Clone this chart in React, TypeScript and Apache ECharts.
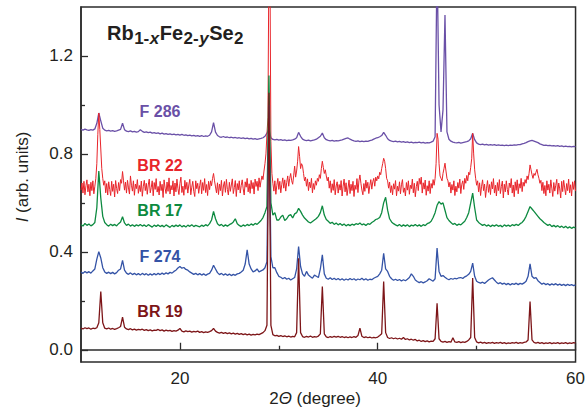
import React, { useEffect, useRef } from "react";
import * as echarts from "echarts";

// Sampling grids of the patterns (2θ in degrees)
const X_START = 10;
const X_STEP = 0.2;
const X_STEP_FINE = 0.1;

const X_TICKS = [20, 40, 60];
const X_MINOR_TICKS = [30, 50];
const Y_TICKS = [0, 0.4, 0.8, 1.2];
const Y_MINOR_TICKS = [0.2, 0.6, 1.0];

const SERIES_NAMES = ["F 286", "BR 22", "BR 17", "F 274", "BR 19"];

// Title "Rb1-xFe2-ySe2": [text, kind]
const TITLE_PARTS: [string, string][] = [
  ["Rb", "main"],
  ["1-", "sub"],
  ["x", "subItalic"],
  ["Fe", "main"],
  ["2-", "sub"],
  ["y", "subItalic"],
  ["Se", "main"],
  ["2", "sub"],
];

// Intensities (arb. units, offset), one value per 0.2° from 10° to 60°
const F286 = [
  0.900, 0.897, 0.901, 0.898, 0.896, 0.899, 0.897, 0.902, 0.925, 0.967,
  0.935, 0.905, 0.897, 0.894, 0.896, 0.893, 0.895, 0.892, 0.894, 0.897,
  0.900, 0.925, 0.899, 0.893, 0.891, 0.894, 0.890, 0.892, 0.889, 0.891,
  0.899, 0.892, 0.888, 0.890, 0.887, 0.889, 0.885, 0.887, 0.884, 0.886,
  0.882, 0.885, 0.881, 0.883, 0.880, 0.882, 0.879, 0.881, 0.878, 0.880,
  0.877, 0.880, 0.876, 0.878, 0.875, 0.877, 0.874, 0.876, 0.873, 0.875,
  0.872, 0.875, 0.871, 0.874, 0.872, 0.876, 0.890, 0.928, 0.889, 0.875,
  0.870, 0.868, 0.871, 0.867, 0.869, 0.866, 0.868, 0.865, 0.867, 0.864,
  0.866, 0.863, 0.865, 0.862, 0.864, 0.861, 0.863, 0.860, 0.862, 0.859,
  0.861, 0.863, 0.866, 0.872, 0.885, 0.900, 0.866, 0.859, 0.857, 0.859,
  0.856, 0.858, 0.855, 0.857, 0.854, 0.856, 0.855, 0.857, 0.860, 0.866,
  0.888, 0.872, 0.860, 0.856, 0.854, 0.856, 0.853, 0.855, 0.857, 0.860,
  0.866, 0.872, 0.885, 0.866, 0.858, 0.855, 0.853, 0.855, 0.852, 0.854,
  0.853, 0.855, 0.857, 0.860, 0.863, 0.865, 0.860, 0.856, 0.853, 0.851,
  0.853, 0.850, 0.852, 0.850, 0.852, 0.851, 0.854, 0.856, 0.860, 0.864,
  0.866, 0.870, 0.875, 0.888, 0.876, 0.862, 0.855, 0.852, 0.850, 0.852,
  0.849, 0.851, 0.848, 0.850, 0.847, 0.849, 0.846, 0.848, 0.845, 0.847,
  0.846, 0.848, 0.845, 0.847, 0.844, 0.846, 0.845, 0.848, 0.852, 0.870,
  1.600, 1.000, 0.890, 0.980, 1.367, 0.890, 0.860, 0.852, 0.848, 0.846,
  0.845, 0.847, 0.844, 0.846, 0.848, 0.850, 0.853, 0.862, 0.884, 0.858,
  0.845, 0.840, 0.838, 0.840, 0.837, 0.839, 0.836, 0.838, 0.836, 0.838,
  0.835, 0.837, 0.835, 0.836, 0.834, 0.836, 0.834, 0.836, 0.835, 0.837,
  0.836, 0.838, 0.838, 0.841, 0.843, 0.846, 0.850, 0.853, 0.855, 0.852,
  0.849, 0.846, 0.841, 0.838, 0.835, 0.836, 0.834, 0.835, 0.833, 0.834,
  0.832, 0.834, 0.831, 0.833, 0.830, 0.832, 0.830, 0.831, 0.829, 0.831,
  0.830,
];

// BR 22 is very noisy: one value per 0.1° from 10° to 60°
const BR22 = [
  0.652, 0.681, 0.640, 0.688, 0.633, 0.670, 0.694, 0.645, 0.676, 0.629,
  0.684, 0.650, 0.690, 0.637, 0.668, 0.700, 0.760, 0.880, 0.967, 0.900,
  0.820, 0.740, 0.700, 0.672, 0.690, 0.641, 0.679, 0.632, 0.686, 0.655,
  0.630, 0.688, 0.647, 0.676, 0.624, 0.691, 0.659, 0.638, 0.683, 0.650,
  0.695, 0.680, 0.728, 0.690, 0.652, 0.685, 0.640, 0.692, 0.661, 0.636,
  0.710, 0.672, 0.648, 0.690, 0.631, 0.677, 0.658, 0.695, 0.639, 0.671,
  0.646, 0.689, 0.627, 0.668, 0.692, 0.650, 0.680, 0.635, 0.673, 0.697,
  0.641, 0.662, 0.690, 0.629, 0.683, 0.655, 0.699, 0.644, 0.667, 0.632,
  0.688, 0.650, 0.676, 0.622, 0.694, 0.660, 0.638, 0.685, 0.647, 0.702,
  0.636, 0.671, 0.653, 0.690, 0.628, 0.681, 0.645, 0.697, 0.659, 0.634,
  0.679, 0.705, 0.642, 0.668, 0.631, 0.692, 0.655, 0.684, 0.640, 0.673,
  0.696, 0.633, 0.664, 0.688, 0.647, 0.626, 0.690, 0.658, 0.680, 0.639,
  0.670, 0.694, 0.637, 0.683, 0.651, 0.699, 0.642, 0.675, 0.630, 0.688,
  0.654, 0.690, 0.670, 0.700, 0.720, 0.690, 0.665, 0.641, 0.682, 0.634,
  0.677, 0.650, 0.692, 0.628, 0.669, 0.687, 0.643, 0.696, 0.655, 0.632,
  0.684, 0.647, 0.673, 0.698, 0.638, 0.662, 0.691, 0.626, 0.679, 0.653,
  0.690, 0.640, 0.671, 0.694, 0.657, 0.632, 0.686, 0.664, 0.700, 0.645,
  0.678, 0.639, 0.692, 0.658, 0.683, 0.636, 0.697, 0.667, 0.688, 0.650,
  0.702, 0.664, 0.690, 0.710, 0.695, 0.730, 0.760, 0.800, 0.880, 0.950,
  1.600, 1.600, 0.850, 0.720, 0.680, 0.648, 0.690, 0.635, 0.672, 0.700,
  0.655, 0.688, 0.641, 0.676, 0.702, 0.660, 0.694, 0.648, 0.684, 0.710,
  0.668, 0.700, 0.720, 0.690, 0.676, 0.710, 0.750, 0.705, 0.730, 0.770,
  0.830, 0.790, 0.740, 0.760, 0.750, 0.720, 0.690, 0.705, 0.668, 0.698,
  0.650, 0.685, 0.662, 0.700, 0.641, 0.679, 0.655, 0.690, 0.672, 0.700,
  0.688, 0.715, 0.700, 0.740, 0.770, 0.745, 0.720, 0.735, 0.710, 0.690,
  0.705, 0.660, 0.690, 0.642, 0.678, 0.651, 0.695, 0.633, 0.669, 0.686,
  0.640, 0.675, 0.652, 0.691, 0.628, 0.668, 0.697, 0.645, 0.682, 0.630,
  0.661, 0.693, 0.638, 0.676, 0.650, 0.688, 0.626, 0.672, 0.655, 0.699,
  0.642, 0.690, 0.714, 0.680, 0.652, 0.633, 0.679, 0.647, 0.693, 0.660,
  0.684, 0.638, 0.671, 0.695, 0.656, 0.686, 0.700, 0.668, 0.705, 0.690,
  0.710, 0.698, 0.725, 0.715, 0.740, 0.760, 0.782, 0.770, 0.740, 0.700,
  0.690, 0.660, 0.685, 0.642, 0.670, 0.633, 0.678, 0.656, 0.691, 0.629,
  0.668, 0.648, 0.686, 0.637, 0.674, 0.695, 0.643, 0.661, 0.628, 0.683,
  0.652, 0.690, 0.635, 0.672, 0.658, 0.697, 0.641, 0.680, 0.625, 0.666,
  0.688, 0.650, 0.700, 0.676, 0.705, 0.640, 0.682, 0.656, 0.693, 0.631,
  0.670, 0.648, 0.690, 0.638, 0.679, 0.660, 0.695, 0.672, 0.700, 0.760,
  0.884, 0.860, 0.760, 0.710, 0.700, 0.690, 0.720, 0.740, 0.762, 0.730,
  0.700, 0.690, 0.665, 0.684, 0.640, 0.675, 0.652, 0.690, 0.630, 0.668,
  0.645, 0.683, 0.660, 0.697, 0.638, 0.676, 0.690, 0.655, 0.700, 0.680,
  0.712, 0.690, 0.725, 0.715, 0.745, 0.780, 0.884, 0.800, 0.735, 0.700,
  0.672, 0.690, 0.645, 0.682, 0.630, 0.668, 0.694, 0.650, 0.677, 0.622,
  0.660, 0.691, 0.643, 0.675, 0.634, 0.686, 0.657, 0.699, 0.640, 0.672,
  0.628, 0.683, 0.650, 0.695, 0.638, 0.667, 0.689, 0.620, 0.676, 0.645,
  0.690, 0.655, 0.632, 0.681, 0.662, 0.699, 0.640, 0.673, 0.625, 0.686,
  0.651, 0.694, 0.637, 0.678, 0.660, 0.700, 0.646, 0.684, 0.668, 0.695,
  0.680, 0.710, 0.695, 0.720, 0.755, 0.735, 0.715, 0.700, 0.720, 0.712,
  0.725, 0.737, 0.715, 0.700, 0.680, 0.692, 0.650, 0.684, 0.638, 0.671,
  0.629, 0.690, 0.652, 0.676, 0.640, 0.694, 0.660, 0.626, 0.683, 0.648,
  0.672, 0.696, 0.635, 0.681, 0.657, 0.620, 0.688, 0.646, 0.692, 0.661,
  0.633, 0.679, 0.650, 0.697, 0.641, 0.674, 0.628, 0.686, 0.655, 0.690,
  0.648,
];

const BR17 = [
  0.512, 0.505, 0.516, 0.508, 0.514, 0.506, 0.511, 0.520, 0.580, 0.730,
  0.620, 0.545, 0.520, 0.511, 0.505, 0.513, 0.507, 0.512, 0.506, 0.515,
  0.522, 0.543, 0.518, 0.508, 0.513, 0.505, 0.511, 0.504, 0.510, 0.506,
  0.512, 0.505, 0.510, 0.503, 0.511, 0.506, 0.501, 0.509, 0.504, 0.510,
  0.503, 0.508, 0.502, 0.510, 0.505, 0.500, 0.508, 0.503, 0.509, 0.504,
  0.510, 0.502, 0.507, 0.501, 0.509, 0.504, 0.511, 0.503, 0.508, 0.505,
  0.502, 0.509, 0.504, 0.511, 0.506, 0.515, 0.530, 0.565, 0.535, 0.515,
  0.507, 0.512, 0.504, 0.510, 0.505, 0.511, 0.515, 0.522, 0.535, 0.515,
  0.508, 0.503, 0.510, 0.505, 0.512, 0.507, 0.514, 0.509, 0.516, 0.512,
  0.520, 0.528, 0.540, 0.560, 0.585, 1.120, 0.600, 0.550, 0.560, 0.530,
  0.530, 0.542, 0.550, 0.528, 0.535, 0.548, 0.552, 0.538, 0.555, 0.560,
  0.578, 0.565, 0.550, 0.538, 0.530, 0.522, 0.518, 0.524, 0.530, 0.536,
  0.545, 0.560, 0.588, 0.550, 0.532, 0.525, 0.516, 0.521, 0.512, 0.518,
  0.510, 0.516, 0.508, 0.514, 0.506, 0.512, 0.507, 0.513, 0.509, 0.515,
  0.512, 0.518, 0.510, 0.514, 0.508, 0.515, 0.512, 0.520, 0.525, 0.532,
  0.535, 0.540, 0.560, 0.600, 0.623, 0.570, 0.535, 0.522, 0.515, 0.510,
  0.506, 0.512, 0.504, 0.510, 0.505, 0.511, 0.503, 0.509, 0.506, 0.512,
  0.505, 0.510, 0.504, 0.511, 0.507, 0.515, 0.518, 0.525, 0.540, 0.560,
  0.590, 0.605, 0.595, 0.600, 0.570, 0.540, 0.528, 0.520, 0.512, 0.516,
  0.508, 0.513, 0.510, 0.518, 0.525, 0.540, 0.560, 0.600, 0.640, 0.580,
  0.530, 0.520, 0.514, 0.508, 0.512, 0.505, 0.510, 0.503, 0.509, 0.505,
  0.511, 0.504, 0.508, 0.502, 0.510, 0.505, 0.509, 0.504, 0.511, 0.507,
  0.512, 0.508, 0.515, 0.520, 0.530, 0.545, 0.565, 0.585, 0.575, 0.565,
  0.555, 0.545, 0.535, 0.528, 0.520, 0.514, 0.508, 0.512, 0.503, 0.508,
  0.502, 0.507, 0.500, 0.505, 0.498, 0.504, 0.497, 0.502, 0.496, 0.501,
  0.498,
];

const F274 = [
  0.318, 0.312, 0.320, 0.314, 0.319, 0.313, 0.322, 0.330, 0.370, 0.401,
  0.375, 0.335, 0.318, 0.312, 0.317, 0.311, 0.316, 0.310, 0.315, 0.325,
  0.330, 0.365, 0.325, 0.313, 0.308, 0.314, 0.307, 0.312, 0.306, 0.311,
  0.305, 0.312, 0.306, 0.311, 0.304, 0.310, 0.305, 0.311, 0.306, 0.312,
  0.307, 0.313, 0.308, 0.314, 0.310, 0.316, 0.313, 0.320, 0.325, 0.334,
  0.340, 0.333, 0.336, 0.328, 0.325, 0.318, 0.313, 0.308, 0.312, 0.306,
  0.311, 0.305, 0.310, 0.304, 0.309, 0.312, 0.325, 0.345, 0.330, 0.315,
  0.307, 0.312, 0.305, 0.310, 0.304, 0.309, 0.303, 0.308, 0.304, 0.310,
  0.312, 0.318, 0.325, 0.350, 0.408, 0.350, 0.330, 0.318, 0.322, 0.330,
  0.318, 0.322, 0.326, 0.335, 0.360, 1.000, 0.380, 0.335, 0.335, 0.315,
  0.300, 0.296, 0.290, 0.295, 0.288, 0.292, 0.285, 0.290, 0.295, 0.330,
  0.422, 0.340, 0.310, 0.300, 0.320, 0.305, 0.298, 0.292, 0.305, 0.300,
  0.295, 0.330, 0.388, 0.310, 0.292, 0.288, 0.294, 0.287, 0.292, 0.286,
  0.291, 0.285, 0.290, 0.284, 0.289, 0.285, 0.291, 0.286, 0.290, 0.284,
  0.289, 0.286, 0.292, 0.285, 0.290, 0.284, 0.288, 0.286, 0.292, 0.296,
  0.300, 0.310, 0.325, 0.394, 0.330, 0.320, 0.300, 0.290, 0.284, 0.288,
  0.283, 0.287, 0.281, 0.286, 0.282, 0.288, 0.295, 0.310, 0.300, 0.285,
  0.279, 0.274, 0.278, 0.273, 0.277, 0.282, 0.290, 0.285, 0.280, 0.290,
  0.415, 0.320, 0.300, 0.303, 0.296, 0.290, 0.286, 0.291, 0.288, 0.292,
  0.290, 0.294, 0.295, 0.291, 0.298, 0.302, 0.308, 0.320, 0.354, 0.300,
  0.280, 0.275, 0.272, 0.276, 0.271, 0.278, 0.285, 0.290, 0.294, 0.285,
  0.276, 0.270, 0.274, 0.268, 0.272, 0.266, 0.271, 0.265, 0.270, 0.267,
  0.272, 0.266, 0.271, 0.268, 0.273, 0.280, 0.300, 0.351, 0.300, 0.292,
  0.295, 0.282, 0.275, 0.268, 0.272, 0.266, 0.270, 0.264, 0.269, 0.265,
  0.270, 0.264, 0.268, 0.263, 0.267, 0.262, 0.267, 0.263, 0.266, 0.262,
  0.265,
];

const BR19 = [
  0.088, 0.085, 0.090, 0.086, 0.089, 0.084, 0.088, 0.086, 0.090, 0.110,
  0.238, 0.110, 0.088, 0.085, 0.089, 0.084, 0.087, 0.083, 0.086, 0.090,
  0.095, 0.133, 0.092, 0.085, 0.082, 0.086, 0.081, 0.084, 0.080, 0.083,
  0.081, 0.084, 0.079, 0.082, 0.078, 0.081, 0.077, 0.080, 0.079, 0.083,
  0.078, 0.081, 0.076, 0.080, 0.077, 0.079, 0.075, 0.078, 0.076, 0.080,
  0.087, 0.076, 0.073, 0.077, 0.074, 0.076, 0.072, 0.075, 0.073, 0.076,
  0.071, 0.074, 0.070, 0.073, 0.071, 0.074, 0.078, 0.087, 0.076, 0.071,
  0.068, 0.071, 0.067, 0.070, 0.066, 0.069, 0.065, 0.068, 0.064, 0.067,
  0.063, 0.066, 0.062, 0.065, 0.061, 0.064, 0.060, 0.063, 0.061, 0.064,
  0.062, 0.066, 0.070, 0.078, 0.100, 1.050, 0.100, 0.062, 0.057, 0.059,
  0.055, 0.058, 0.054, 0.057, 0.053, 0.056, 0.052, 0.055, 0.053, 0.070,
  0.374, 0.070, 0.054, 0.051, 0.055, 0.052, 0.056, 0.051, 0.054, 0.052,
  0.056, 0.065, 0.258, 0.065, 0.053, 0.050, 0.054, 0.051, 0.055, 0.052,
  0.055, 0.051, 0.054, 0.050, 0.053, 0.049, 0.053, 0.050, 0.054, 0.051,
  0.058, 0.088, 0.055, 0.050, 0.053, 0.049, 0.052, 0.048, 0.051, 0.049,
  0.052, 0.058, 0.065, 0.279, 0.070, 0.050, 0.046, 0.049, 0.045, 0.048,
  0.044, 0.047, 0.043, 0.050, 0.042, 0.045, 0.040, 0.043, 0.039, 0.042,
  0.036, 0.039, 0.034, 0.037, 0.033, 0.036, 0.032, 0.035, 0.034, 0.045,
  0.190, 0.045, 0.034, 0.031, 0.034, 0.030, 0.033, 0.031, 0.049, 0.032,
  0.030, 0.033, 0.029, 0.032, 0.030, 0.034, 0.040, 0.050, 0.293, 0.050,
  0.032, 0.028, 0.031, 0.027, 0.030, 0.026, 0.029, 0.027, 0.030, 0.026,
  0.029, 0.027, 0.030, 0.026, 0.029, 0.025, 0.028, 0.026, 0.029, 0.027,
  0.030, 0.026, 0.029, 0.027, 0.030, 0.032, 0.040, 0.197, 0.040, 0.030,
  0.027, 0.030, 0.026, 0.029, 0.025, 0.028, 0.026, 0.029, 0.025, 0.028,
  0.026, 0.029, 0.025, 0.028, 0.026, 0.029, 0.025, 0.028, 0.026, 0.029,
  0.027,
];

const SERIES_VALUES = [F286, BR22, BR17, F274, BR19];
const SERIES_STEPS = [X_STEP, X_STEP_FINE, X_STEP, X_STEP, X_STEP];
const COLORS = ["#6a50a7", "#e8252b", "#0d8a40", "#3453a6", "#7d1518"];
const LINE_WIDTHS = [1.3, 1.0, 1.3, 1.3, 1.3];

const FONT = "'Liberation Sans', Arial, Helvetica, sans-serif";
const TEXT_COLOR = "#231f20";

function buildTitle(x0: number, yMain: number, ySub: number) {
  const canvas = document.createElement("canvas");
  const ctx = canvas.getContext("2d");
  const spec: Record<string, { size: number; italic: boolean; y: number }> = {
    main: { size: 20, italic: false, y: yMain },
    sub: { size: 17, italic: false, y: ySub },
    subItalic: { size: 17, italic: true, y: ySub },
  };
  let x = x0;
  const children: any[] = [];
  TITLE_PARTS.forEach(([text, kind]) => {
    const s = spec[kind];
    const font = `${s.italic ? "italic " : ""}bold ${s.size}px ${FONT}`;
    let w = text.length * s.size * 0.6;
    if (ctx) {
      ctx.font = font;
      w = ctx.measureText(text).width;
    }
    children.push({
      type: "text",
      x,
      y: s.y,
      style: {
        text,
        fill: TEXT_COLOR,
        fontSize: s.size,
        fontWeight: "bold",
        fontStyle: s.italic ? "italic" : "normal",
        fontFamily: FONT,
        align: "left",
        verticalAlign: "middle",
        textAlign: "left",
        textVerticalAlign: "middle",
      },
    });
    x += w + (kind === "main" ? 0.5 : 0.5);
  });
  return { type: "group", children };
}

export default function App() {
  const ref = useRef<HTMLDivElement>(null);

  useEffect(() => {
    if (!ref.current) return;
    const chart = echarts.init(ref.current, undefined, { renderer: "svg" });

    const toPairs = (vals: number[], step: number) =>
      vals.map((v, i) => [+(X_START + i * step).toFixed(2), v]);

    const labelY = [111.5, 165.5, 210, 256.5, 311];

    const axisLineStyle = { color: "#2b2b2b", width: 1.5 };
    const tickStyle = { color: "#2b2b2b", width: 1.3 };

    const option: any = {
      animation: false,
      backgroundColor: "#ffffff",
      grid: {
        left: 81,
        right: 10,
        top: 7,
        bottom: 49,
        show: true,
        borderColor: "#2b2b2b",
        borderWidth: 1.5,
        backgroundColor: "transparent",
      },
      xAxis: [
        {
          type: "value",
          min: 10,
          max: 60,
          position: "bottom",
          axisLine: { show: true, lineStyle: axisLineStyle },
          axisTick: { show: true, inside: true, length: 7, customValues: X_TICKS, lineStyle: tickStyle },
          axisLabel: {
            show: true,
            customValues: X_TICKS,
            margin: 8,
            fontSize: 17,
            fontFamily: FONT,
            color: TEXT_COLOR,
          },
          splitLine: { show: false },
        },
        {
          type: "value",
          min: 10,
          max: 60,
          position: "bottom",
          offset: 0,
          axisLine: { show: false },
          axisTick: { show: true, inside: true, length: 4, customValues: X_MINOR_TICKS, lineStyle: tickStyle },
          axisLabel: { show: false },
          splitLine: { show: false },
        },
      ],
      yAxis: [
        {
          type: "value",
          min: -0.05,
          max: 1.4,
          position: "left",
          axisLine: { show: true, lineStyle: axisLineStyle },
          axisTick: { show: true, inside: true, length: 7, customValues: Y_TICKS, lineStyle: tickStyle },
          axisLabel: {
            show: true,
            customValues: Y_TICKS,
            margin: 8,
            fontSize: 17,
            fontFamily: FONT,
            color: TEXT_COLOR,
            formatter: (v: number) => v.toFixed(1),
          },
          splitLine: { show: false },
        },
        {
          type: "value",
          min: -0.05,
          max: 1.4,
          position: "left",
          offset: 0,
          axisLine: { show: false },
          axisTick: { show: true, inside: true, length: 4, customValues: Y_MINOR_TICKS, lineStyle: tickStyle },
          axisLabel: { show: false },
          splitLine: { show: false },
        },
      ],
      series: SERIES_VALUES.map((vals, k) => ({
        name: SERIES_NAMES[k],
        type: "line",
        xAxisIndex: 0,
        yAxisIndex: 0,
        data: toPairs(vals, SERIES_STEPS[k]),
        showSymbol: false,
        symbol: "none",
        lineStyle: { color: COLORS[k], width: LINE_WIDTHS[k] },
        clip: true,
        silent: true,
      })),
      graphic: [
        ...SERIES_NAMES.map((name, k) => ({
          type: "text",
          x: 160,
          y: labelY[k],
          style: {
            text: name,
            fill: COLORS[k],
            fontSize: 16,
            fontWeight: "bold",
            fontFamily: FONT,
            align: "center",
            verticalAlign: "middle",
            textAlign: "center",
            textVerticalAlign: "middle",
          },
        })),
        buildTitle(107, 33, 38.5),
        {
          type: "text",
          x: 22,
          y: 177,
          rotation: Math.PI / 2,
          style: {
            text: "{i|I} (arb. units)",
            fill: TEXT_COLOR,
            fontSize: 17,
            fontFamily: FONT,
            align: "center",
            verticalAlign: "middle",
            textAlign: "center",
            textVerticalAlign: "middle",
            rich: {
              i: { fontSize: 17, fontStyle: "italic", fontFamily: FONT, fill: TEXT_COLOR },
            },
          },
        },
        {
          type: "text",
          x: 315,
          y: 398,
          style: {
            text: "2{t|Θ} (degree)",
            fill: TEXT_COLOR,
            fontSize: 17,
            fontFamily: FONT,
            align: "center",
            verticalAlign: "middle",
            textAlign: "center",
            textVerticalAlign: "middle",
            rich: {
              t: { fontSize: 17, fontStyle: "italic", fontFamily: FONT, fill: TEXT_COLOR },
            },
          },
        },
      ],
    };

    chart.setOption(option);
    return () => {
      chart.dispose();
    };
  }, []);

  return (
    <div
      ref={ref}
      style={{ position: "fixed", left: 0, top: 0, width: 588, height: 411, background: "#fff" }}
    />
  );
}
